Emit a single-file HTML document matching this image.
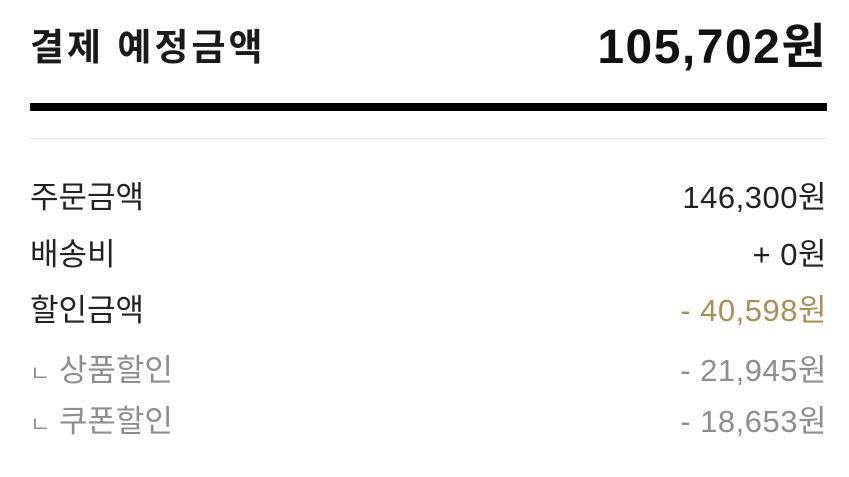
<!DOCTYPE html>
<html><head><meta charset="utf-8"><style>
body{margin:0;width:849px;height:477px;background:#fff;position:relative;overflow:hidden;font-family:"Liberation Sans","Noto Sans CJK KR",sans-serif;color:#222}
.t{position:absolute;white-space:nowrap;line-height:1}
.l{left:30px}.r{right:22px}
.row{font-size:31px}
.n{letter-spacing:0.5px}
</style></head><body>
<div class="t l" style="top:29px;font-size:37px;font-weight:bold;color:#1a1a1a;letter-spacing:3px">결제 예정금액</div>
<div class="t r" style="top:24px;font-size:48px;font-weight:bold;color:#111;letter-spacing:1.5px">105,702원</div>
<div style="position:absolute;left:30px;width:797px;top:103px;height:8px;background:#000"></div>
<div style="position:absolute;left:30px;width:797px;top:138px;height:1px;background:#e8e8e8"></div>
<div class="t l row" style="top:182px">주문금액</div>
<div class="t r row n" style="top:182px">146,300원</div>
<div class="t l row" style="top:239px">배송비</div>
<div class="t r row n" style="top:239px">+ 0원</div>
<div class="t l row" style="top:295px">할인금액</div>
<div class="t r row n" style="top:295px;color:#a89155">- 40,598원</div>
<div class="t l row" style="top:355px;color:#8e8e8e"><span style="font-size:22px">ㄴ</span> 상품할인</div>
<div class="t r row n" style="top:355px;color:#8e8e8e">- 21,945원</div>
<div class="t l row" style="top:406px;color:#8e8e8e"><span style="font-size:22px">ㄴ</span> 쿠폰할인</div>
<div class="t r row n" style="top:406px;color:#8e8e8e">- 18,653원</div>
</body></html>
